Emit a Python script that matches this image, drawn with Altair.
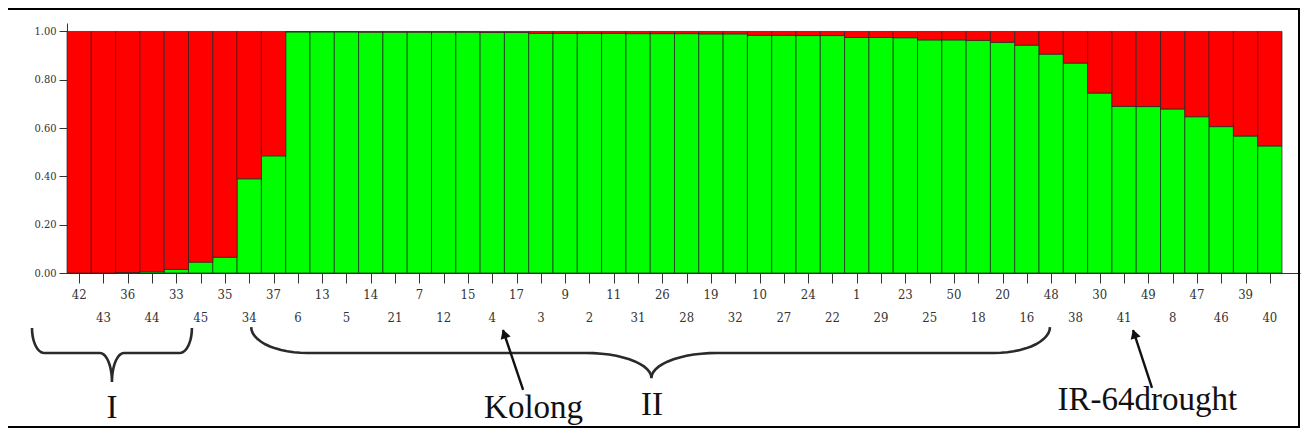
import math
import altair as alt
import numpy as np
import pandas as pd

# ---------------- data ----------------
samples = [42, 43, 36, 44, 33, 45, 35, 34, 37, 6, 13, 5, 14, 21, 7, 12, 15, 4, 17, 3,
           9, 2, 11, 31, 26, 28, 19, 32, 10, 27, 24, 22, 1, 29, 23, 25, 50, 18, 20, 16,
           48, 38, 30, 41, 49, 8, 47, 46, 39, 40]

cluster_green = [0.0, 0.0, 0.002, 0.005, 0.015, 0.045, 0.065, 0.39, 0.485, 0.998,
                 0.998, 0.998, 0.997, 0.997, 0.997, 0.997, 0.997, 0.996, 0.996, 0.992,
                 0.992, 0.992, 0.992, 0.991, 0.991, 0.991, 0.99, 0.99, 0.984, 0.984,
                 0.983, 0.983, 0.975, 0.975, 0.974, 0.965, 0.965, 0.963, 0.955, 0.943,
                 0.906, 0.869, 0.745, 0.69, 0.689, 0.679, 0.647, 0.606, 0.567, 0.526]

y_ticks = [0.0, 0.2, 0.4, 0.6, 0.8, 1.0]

group_labels = ["I", "II"]
marked_samples = ["Kolong", "IR-64drought"]

# ---------------- layout helpers ----------------
W, H = 1233, 250
X_DOMAIN = [0, 50.74]
Y_DOMAIN = [0, 1.035]
PX_X = W / (X_DOMAIN[1] - X_DOMAIN[0])
PX_Y = H / (Y_DOMAIN[1] - Y_DOMAIN[0])

xs = alt.Scale(domain=X_DOMAIN, nice=False, zero=False)
ys = alt.Scale(domain=Y_DOMAIN, nice=False)

n = len(samples)
X_AXIS = alt.Axis(values=[i + 0.5 for i in range(n)], labels=False, title=None,
                  grid=False, tickSize=10, tickColor="#333333",
                  domainColor="#333333", tickWidth=1)
Y_AXIS = alt.Axis(values=y_ticks, format=".2f", title=None, grid=False,
                  tickSize=8, tickColor="#333333", domainColor="#333333",
                  labelFont="DejaVu Serif Condensed, Liberation Serif",
                  labelFontSize=11, labelColor="#333333", labelPadding=3)


def X(field):
    return alt.X(field, scale=xs, axis=X_AXIS)


def Y(field):
    return alt.Y(field, scale=ys, axis=Y_AXIS)


df = pd.DataFrame({
    "idx": list(range(n)),
    "label": [str(s) for s in samples],
    "green": cluster_green,
})
df["start"] = df["idx"]
df["end"] = df["idx"] + 1
df["mid"] = df["idx"] + 0.5
df["top"] = 1.0
df["zero"] = 0.0
df["row"] = df["idx"] % 2
df["ly"] = np.where(df["row"] == 0, -0.091, -0.186)

bar_stroke = dict(stroke="#222222", strokeWidth=0.7)

green = alt.Chart(df).mark_rect(color="#00ff00", **bar_stroke).encode(
    x=X("start:Q"), x2="end:Q", y=Y("zero:Q"), y2="green:Q",
)

red = alt.Chart(df).mark_rect(color="#ff0000", **bar_stroke).encode(
    x=X("start:Q"), x2="end:Q", y=Y("green:Q"), y2="top:Q",
)

tick_labels = alt.Chart(df).mark_text(
    font="DejaVu Serif Condensed, Liberation Serif", fontSize=13, color="#333333",
    baseline="middle", align="center"
).encode(x=X("mid:Q"), y=Y("ly:Q"), text="label:N")

# ---------------- braces (annotation geometry, data units) ----------------
def brace_points(name, x0, x1, xm, rx_end, rx_mid, ytop, ymid, ybot):
    t = np.linspace(0, math.pi / 2, 14)

    def half(xa):
        d = 1.0 if xm > xa else -1.0
        ex = xa + d * rx_end * (1 - np.cos(t))
        ey = ytop + (ymid - ytop) * np.sin(t)
        mx = xm - d * rx_mid + d * rx_mid * np.sin(t)
        my = ymid + (ybot - ymid) * (1 - np.cos(t))
        return list(zip(np.concatenate([ex, mx]), np.concatenate([ey, my])))

    pts = half(x0) + half(x1)[::-1]
    return pd.DataFrame({"brace": name, "k": range(len(pts)),
                         "bx": [p[0] for p in pts], "by": [p[1] for p in pts]})

braces = pd.concat([
    brace_points(group_labels[0], -1.44, 5.14, 1.85, 0.5, 0.5, -0.228, -0.331, -0.451),
    brace_points(group_labels[1], 7.58, 40.45, 24.05, 2.3, 2.7, -0.224, -0.331, -0.435),
])

brace_layer = alt.Chart(braces).mark_line(color="#2a2a2a", strokeWidth=2.6).encode(
    x=X("bx:Q"), y=Y("by:Q"), detail="brace:N", order="k:Q",
)

# ---------------- arrows ----------------
arrow_tail = [(18.77, -0.484), (44.65, -0.476)]
arrow_tip = [(17.94, -0.236), (43.87, -0.236)]
rows = []
heads = []
for i, (tl, tp) in enumerate(zip(arrow_tail, arrow_tip)):
    rows.append({"arrow": i, "k": 0, "ax": tl[0], "ay": tl[1]})
    rows.append({"arrow": i, "k": 1, "ax": tp[0], "ay": tp[1]})
    dxp = (tp[0] - tl[0]) * PX_X
    dyp = -(tp[1] - tl[1]) * PX_Y
    ang = math.degrees(math.atan2(dxp, -dyp)) % 360
    length = math.hypot(dxp, dyp)
    back = 4.0 / length
    heads.append({"hx": tp[0] - (tp[0] - tl[0]) * back,
                  "hy": tp[1] - (tp[1] - tl[1]) * back, "ang": ang})
arrows = pd.DataFrame(rows)
heads = pd.DataFrame(heads)

arrow_lines = alt.Chart(arrows).mark_line(color="#111111", strokeWidth=2.4).encode(
    x=X("ax:Q"), y=Y("ay:Q"), detail="arrow:N", order="k:Q",
)
arrow_heads = alt.Chart(heads).mark_point(shape="triangle-up", filled=True, size=110,
                                          color="#111111", opacity=1).encode(
    x=X("hx:Q"), y=Y("hy:Q"), angle=alt.Angle("ang:Q", scale=None),
)

# ---------------- annotation texts ----------------
ann = pd.DataFrame({
    "text": [group_labels[0], group_labels[1], marked_samples[0], marked_samples[1]],
    "tx": [1.85, 24.07, 19.2, 44.46],
    "ty": [-0.600, -0.586, -0.600, -0.567],
})
ann_layer = alt.Chart(ann).mark_text(font="Liberation Serif", fontSize=33, color="#111111",
                                     baseline="alphabetic", align="center").encode(
    x=X("tx:Q"), y=Y("ty:Q"), text="text:N",
)

frame = alt.Chart(pd.DataFrame({"a": [0]})).mark_rect(
    filled=False, stroke="#000000", strokeWidth=2
).encode(x=alt.value(-60), x2=alt.value(1232), y=alt.value(-14), y2=alt.value(404))

chart = alt.layer(
    green, red, tick_labels, brace_layer, arrow_lines, arrow_heads, ann_layer, frame
).properties(
    width=W, height=H,
    autosize=alt.AutoSizeParams(type="none"),
    padding={"left": 59, "top": 15, "right": 1, "bottom": 156},
    background="white",
).configure_view(strokeWidth=0)

chart.save("out.html", embed_options={"renderer": "svg", "actions": False})
